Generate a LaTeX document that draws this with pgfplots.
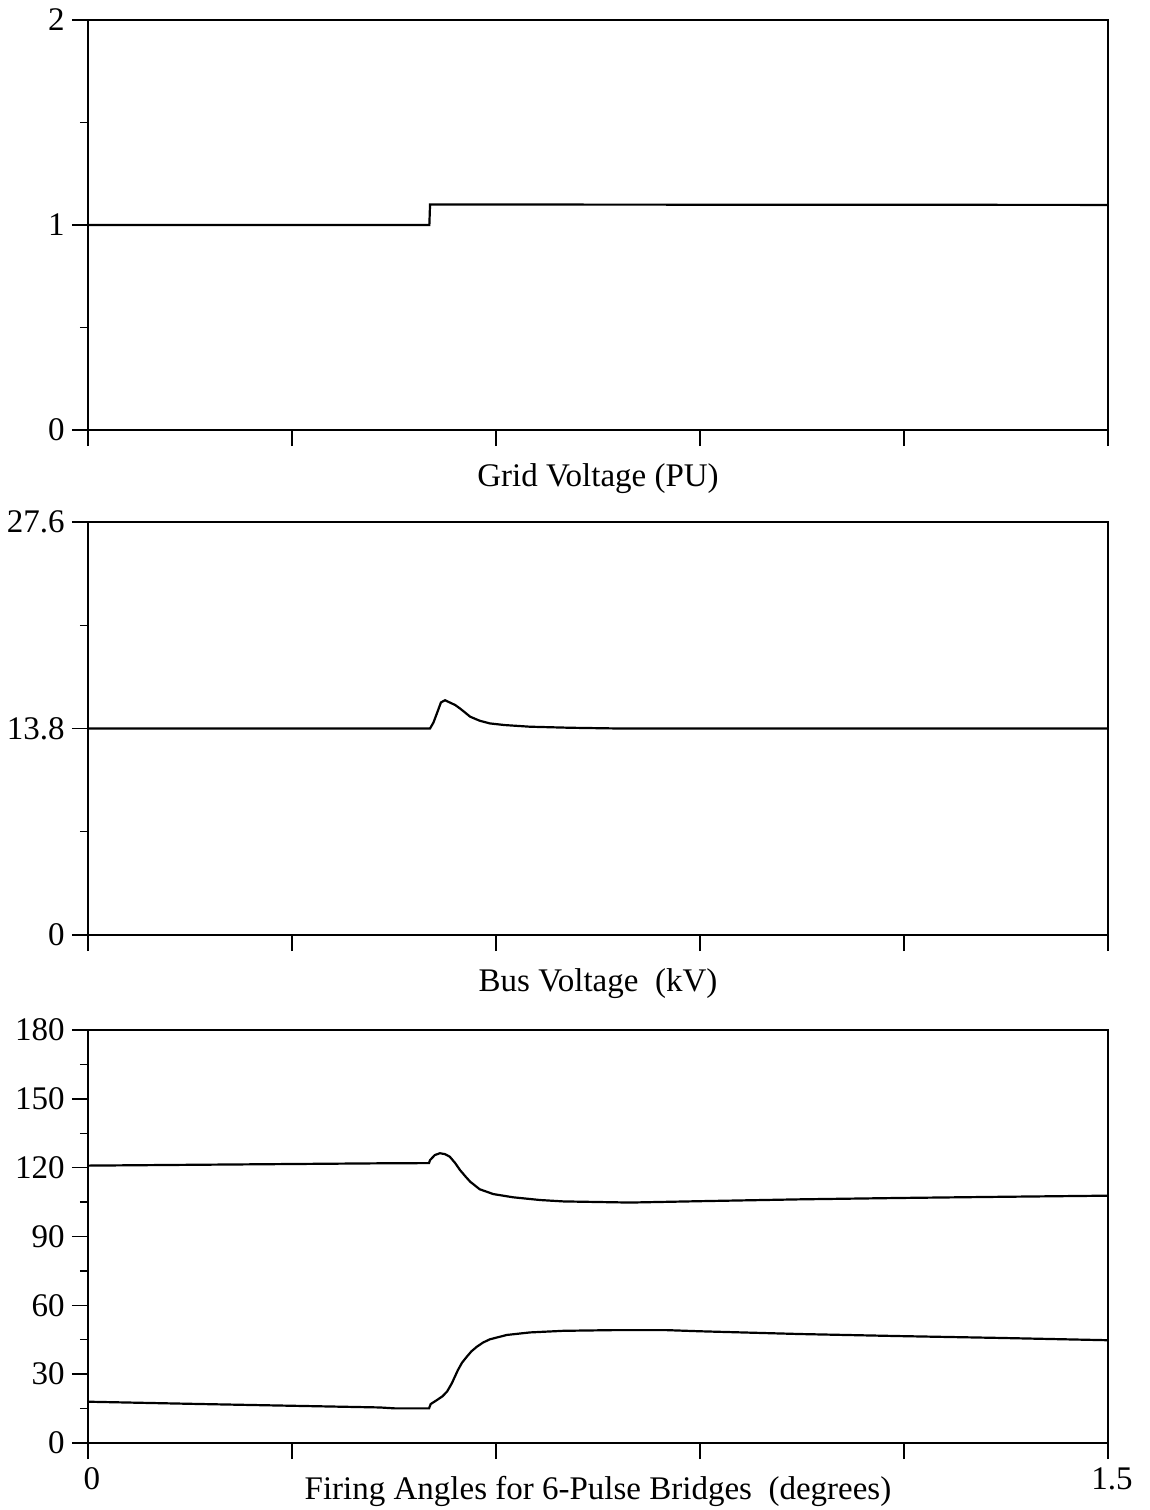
\documentclass[border=0pt]{standalone}
\usepackage{fontspec}
\setmainfont{Liberation Serif}
\usepackage{pgfplots}
\pgfplotsset{compat=1.18}
\begin{document}
\fontsize{16.5}{19}\selectfont
\begin{tikzpicture}
\path[use as bounding box] (0,0) rectangle (575pt,-755pt);
\pgfplotsset{
 panel/.style={
  scale only axis, width=510pt,
  anchor=south west,
  xmin=0, xmax=1.5, xtick={0,0.3,0.6,0.9,1.2,1.5},
  xticklabels={,,,,,},
  tick align=outside, xtick pos=bottom, ytick pos=left,
  major tick length=8pt, minor tick length=4pt,
  minor y tick num=1,
  axis line style={line width=0.7pt},
  tick style={black, line width=0.7pt},
  /pgf/number format/assume math mode=true,
  tick label style={font=\fontsize{16.5}{19}\selectfont},
  yticklabel style={xshift=2pt},
  xticklabel style={yshift=1.5pt, xshift=2pt},
  label style={font=\fontsize{16.5}{19}\selectfont},
  xlabel style={at={(axis description cs:0.5,0)}, anchor=base, yshift=-28pt},
 },
 curve/.style={black, line width=1.1pt, mark=none},
}
% Panel 1
\begin{axis}[panel, at={(44pt,-215pt)}, height=205pt,
  ymin=0, ymax=2, ytick={0,1,2}, yticklabels={0,1,2},
  xlabel={Grid Voltage (PU)}]
\addplot[curve] coordinates {(0,1.0) (0.502,1.0) (0.503,1.1) (1.0,1.099) (1.5,1.098)};
\end{axis}
% Panel 2
\begin{axis}[panel, at={(44pt,-467.5pt)}, height=206.5pt,
  ymin=0, ymax=27.6, ytick={0,13.8,27.6}, yticklabels={0,13.8,27.6},
  xlabel={Bus Voltage\ \ (kV)}]
\addplot[curve] coordinates {
(0,13.8) (0.503,13.8) (0.508,14.2) (0.513,14.8) (0.519,15.54) (0.525,15.69)
(0.532,15.54) (0.540,15.37) (0.547,15.14) (0.555,14.85) (0.562,14.59)
(0.576,14.32) (0.591,14.14) (0.613,14.03) (0.650,13.92) (0.709,13.85)
(0.782,13.8) (1.5,13.8)};
\end{axis}
% Panel 3
\begin{axis}[panel, at={(44pt,-721.5pt)}, height=206.5pt,
  ymin=0, ymax=180, ytick={0,30,60,90,120,150,180},
  yticklabels={0,30,60,90,120,150,180},
  xticklabels={0,,,,,1.5},
  xlabel={Firing Angles for 6-Pulse Bridges\ \ (degrees)}]
\addplot[curve] coordinates {
(0,120.9) (0.429,121.9) (0.5015,122.0) (0.503,123.3) (0.510,125.5) (0.5176,126.3)
(0.525,125.9) (0.532,124.8) (0.540,122.0) (0.547,119.0) (0.555,116.2) (0.562,113.9)
(0.576,110.6) (0.596,108.5) (0.625,107.1) (0.665,105.9) (0.699,105.3)
(0.797,104.8) (0.900,105.4) (1.047,106.2) (1.194,106.8) (1.341,107.3) (1.5,107.8)};
\addplot[curve] coordinates {
(0,18.0) (0.165,17.0) (0.429,15.5) (0.451,15.1) (0.5015,15.1) (0.504,17.0)
(0.513,18.7) (0.521,20.3) (0.528,22.4) (0.535,26.0) (0.544,31.8) (0.550,35.0) (0.557,37.6)
(0.564,40.0) (0.572,42.0) (0.581,43.8) (0.591,45.2) (0.616,47.1) (0.650,48.2)
(0.699,48.9) (0.772,49.2) (0.851,49.2) (0.900,48.7) (1.047,47.5) (1.194,46.6)
(1.341,45.8) (1.5,44.8)};
\end{axis}
\end{tikzpicture}
\end{document}
